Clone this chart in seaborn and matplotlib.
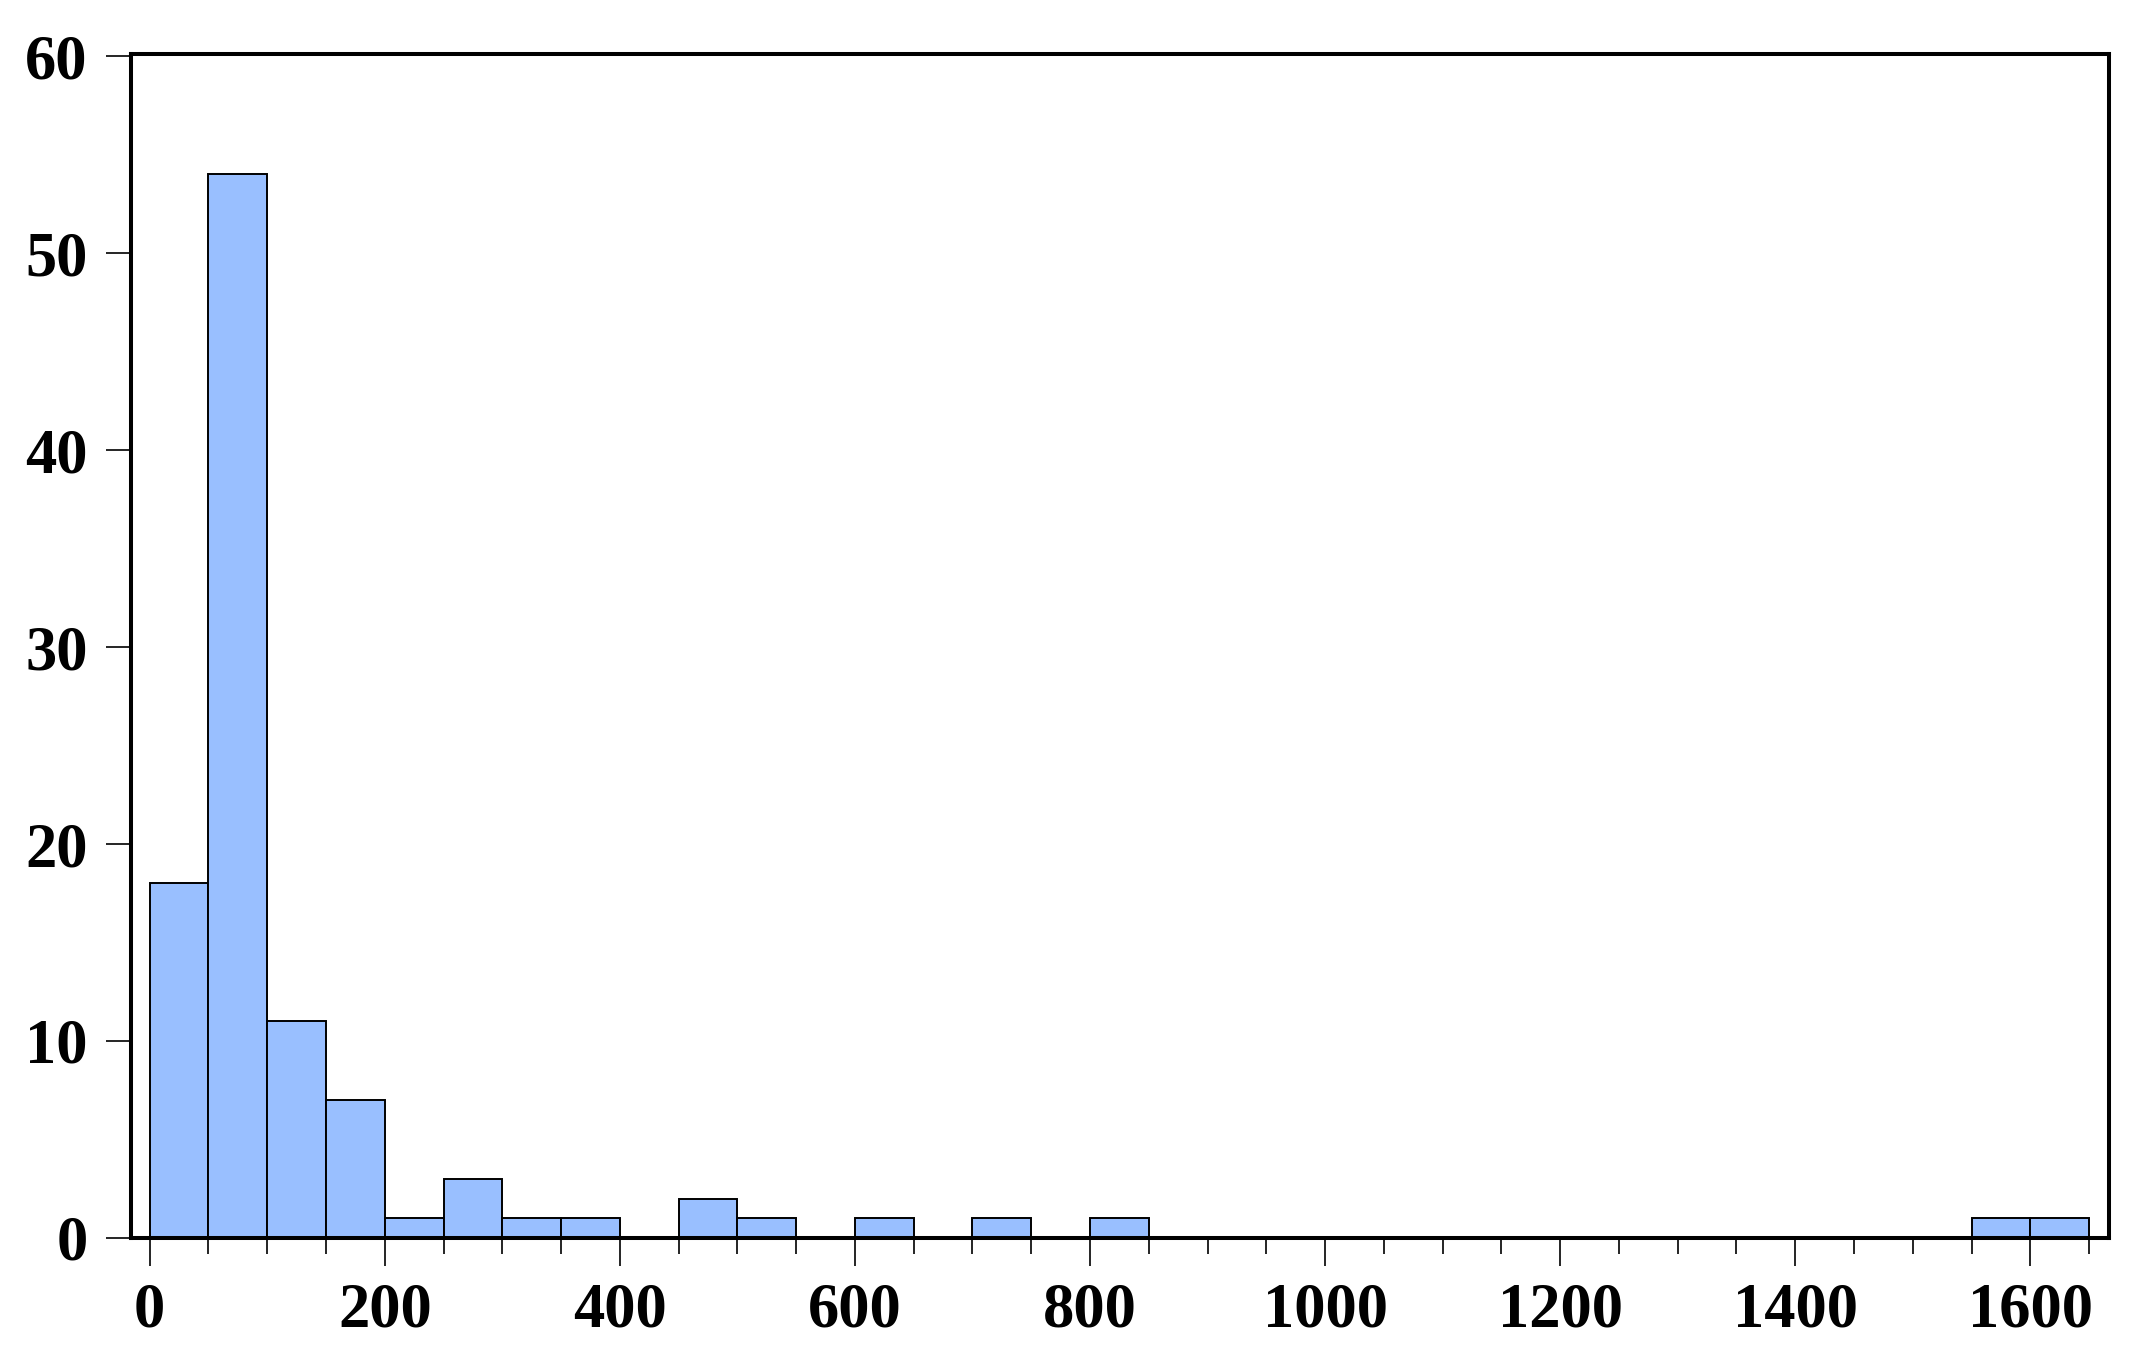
import matplotlib
matplotlib.use("Agg")
import matplotlib.pyplot as plt
from matplotlib.ticker import MultipleLocator
import numpy as np
import pandas as pd
import seaborn as sns

# histogram counts per 50-wide bin
bin_edges = list(range(0, 1700, 50))
counts = [18, 54, 11, 7, 1, 3, 1, 1, 0, 2, 1, 0, 1, 0, 1, 0, 1,
          0, 0, 0, 0, 0, 0, 0, 0, 0, 0, 0, 0, 0, 0, 1, 1]
x_ticks = [0, 200, 400, 600, 800, 1000, 1200, 1400, 1600]
y_ticks = [0, 10, 20, 30, 40, 50, 60]

centers = [e + 25 for e in bin_edges[:-1]]
df = pd.DataFrame({"value": centers, "count": counts})

sns.set_style("white")
plt.rcParams['font.family'] = ['Liberation Serif', 'DejaVu Serif']
plt.rcParams['font.weight'] = 'bold'
plt.rcParams['text.color'] = 'black'
plt.rcParams['xtick.color'] = 'black'
plt.rcParams['ytick.color'] = 'black'

fig = plt.figure(figsize=(21.39, 13.54), dpi=100)
ax = fig.add_axes([0.0612, 0.0857, 0.9248, 0.8743])

sns.histplot(data=df, x="value", weights="count", bins=bin_edges,
             color="#99BFFF", alpha=1.0, edgecolor="black", linewidth=1.4, ax=ax)

ax.set_xlim(-16, 1667)
ax.set_ylim(0, 60.1)
ax.set_xticks(x_ticks)
ax.set_yticks(y_ticks)
ax.xaxis.set_minor_locator(MultipleLocator(50))
ax.set_xlabel("")
ax.set_ylabel("")

for side in ["left", "right", "top", "bottom"]:
    ax.spines[side].set_visible(True)
    ax.spines[side].set_color("black")
    ax.spines[side].set_linewidth(2.9)

ax.tick_params(axis="x", which="major", direction="out", length=20, width=1.2,
               pad=12, labelsize=45, bottom=True, color="black", labelcolor="black")
ax.tick_params(axis="x", which="minor", direction="out", length=11.5, width=1.2,
               bottom=True, color="black")
ax.tick_params(axis="y", which="major", direction="out", length=18, width=1.2,
               pad=13, labelsize=45, left=True, color="black", labelcolor="black")
for lab in ax.get_xticklabels() + ax.get_yticklabels():
    lab.set_fontweight("bold")

fig.savefig("out.png", dpi=100, facecolor="white")
